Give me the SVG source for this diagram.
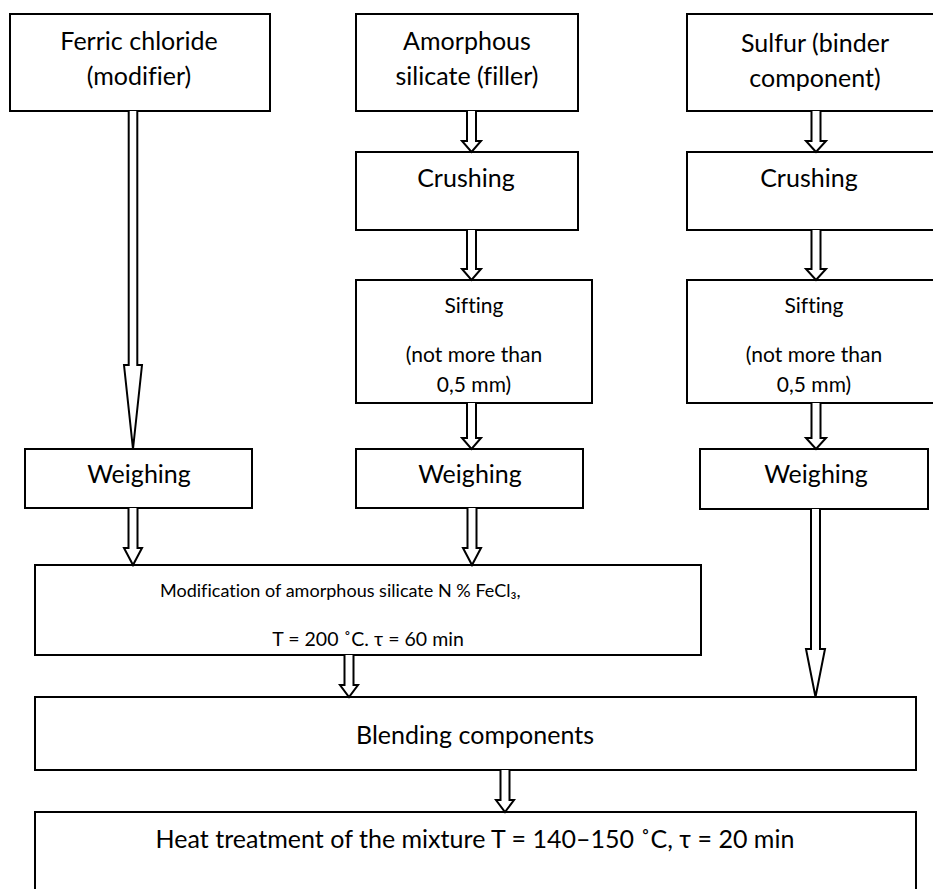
<svg xmlns="http://www.w3.org/2000/svg" width="933" height="889" viewBox="0 0 933 889">
<style>
.box{fill:#fff;stroke:#000;stroke-width:2}
.arr{fill:#fff;stroke:#000;stroke-width:2;stroke-linejoin:miter}
text{font-family:Lato,"Liberation Sans",sans-serif;fill:#000;text-anchor:middle;font-variant-ligatures:none;font-feature-settings:"liga" 0,"clig" 0,"dlig" 0,"calt" 0;letter-spacing:0.02px}
.t{font-size:25px}
.s{font-size:21px}
.m1{font-size:18px}
.m2{font-size:19.5px}
</style>
<rect width="933" height="889" fill="#fff"/>
<g id="ferric"><rect class="box" x="10" y="14" width="260" height="97"/><text class="t" x="139" y="50">Ferric chloride</text><text class="t" x="139" y="85">(modifier)</text></g>
<g id="amorphous"><rect class="box" x="356" y="14" width="222" height="97"/><text class="t" x="467" y="50">Amorphous</text><text class="t" x="467" y="85">silicate (filler)</text></g>
<g id="sulfur"><rect class="box" x="687" y="14" width="260" height="97"/><text class="t" x="815" y="52">Sulfur (binder</text><text class="t" x="815" y="87">component)</text></g>
<g id="crushing1"><rect class="box" x="356" y="152" width="222" height="78"/><text class="t" x="466" y="187">Crushing</text></g>
<g id="crushing2"><rect class="box" x="687" y="152" width="260" height="78"/><text class="t" x="809" y="187">Crushing</text></g>
<g id="sifting1"><rect class="box" x="356" y="280" width="236" height="123"/><text class="s" x="474" y="313">Sifting</text><text class="s" x="474" y="362">(not more than</text><text class="s" x="474" y="392">0,5 mm)</text></g>
<g id="sifting2"><rect class="box" x="687" y="280" width="260" height="123"/><text class="s" x="814" y="313">Sifting</text><text class="s" x="814" y="362">(not more than</text><text class="s" x="814" y="392">0,5 mm)</text></g>
<g id="weighing1"><rect class="box" x="25" y="449" width="227" height="59"/><text class="t" x="139" y="483">Weighing</text></g>
<g id="weighing2"><rect class="box" x="356" y="449" width="227" height="59"/><text class="t" x="470" y="483">Weighing</text></g>
<g id="weighing3"><rect class="box" x="700" y="449" width="228" height="60"/><text class="t" x="816" y="483">Weighing</text></g>
<g id="modification"><rect class="box" x="35" y="565" width="666" height="90"/><text class="m1" x="160" y="597" style="text-anchor:start">Modification of amorphous silicate N % FeCl₃,</text><text class="m2" x="368" y="646">T = 200 ˚C. τ = 60 min</text></g>
<g id="blending"><rect class="box" x="35" y="697" width="881" height="73"/><text class="t" x="475" y="744">Blending components</text></g>
<g id="heat"><rect class="box" x="35" y="812" width="881" height="90"/><text class="t" x="475" y="848">Heat treatment of the mixture T = 140–150 ˚C, τ = 20 min</text></g>
<g id="connectors">
<path class="arr" d="M128.7 111 V365 H124 L133 449 L142 365 H137.3 V111"/>
<path class="arr" d="M467 111 V141 H462 L471.5 152 L481 141 H476 V111"/>
<path class="arr" d="M467 230 V269 H462 L471.5 280 L481 269 H476 V230"/>
<path class="arr" d="M467 403 V438 H462 L471.5 449 L481 438 H476 V403"/>
<path class="arr" d="M811.5 111 V141 H806 L816 152 L826 141 H820.5 V111"/>
<path class="arr" d="M811.5 230 V269 H806 L816 280 L826 269 H820.5 V230"/>
<path class="arr" d="M811.5 403 V438 H806 L816 449 L826 438 H820.5 V403"/>
<path class="arr" d="M128.5 508 V548 H124 L133 565 L142 548 H137.5 V508"/>
<path class="arr" d="M467.5 508 V548 H463 L472 565 L481 548 H476.5 V508"/>
<path class="arr" d="M811 509 V649 H806 L815.5 697 L825 649 H820 V509"/>
<path class="arr" d="M344.5 655 V685 H340 L349 697 L358 685 H353.5 V655"/>
<path class="arr" d="M500.5 770 V800 H496 L505 812 L514 800 H509.5 V770"/>
</g>
</svg>
